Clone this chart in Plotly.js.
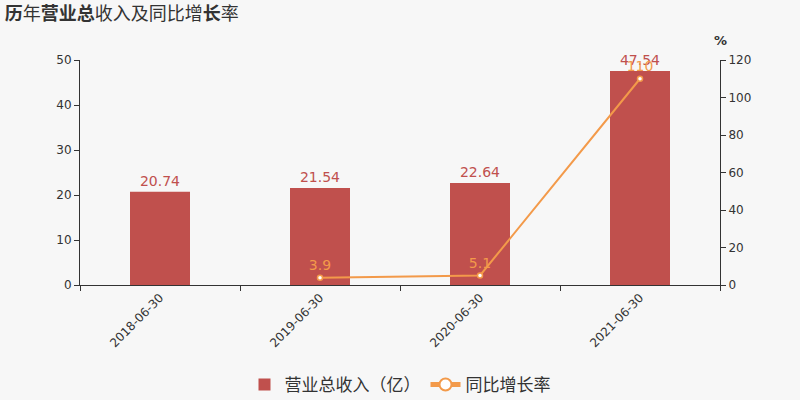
<!DOCTYPE html>
<html>
<head>
<meta charset="utf-8">
<script src="https://cdn.plot.ly/plotly-3.0.1.min.js"></script>
<style>
  html, body { margin: 0; padding: 0; background: #f7f7f7; }
  #chart { width: 800px; height: 400px; }
</style>
</head>
<body>
<div id="chart"></div>
<script>
  // ---------- Data ----------
  const periods = ["2018-06-30", "2019-06-30", "2020-06-30", "2021-06-30"];
  const revenue = [20.74, 21.54, 22.64, 47.54];          // 营业总收入（亿）
  const growthPeriods = ["2019-06-30", "2020-06-30", "2021-06-30"];
  const growth = [3.9, 5.1, 110];                          // 同比增长率 %
  const growthLabels = ["3.9", "5.1", "110"];

  // ---------- Colors ----------
  const C = {
    bg: "#f7f7f7",
    axis: "#333333",
    text: "#333333",
    bar: "#c0504d",
    line: "#f39a4a",
  };
  const FONT = "'DejaVu Sans', 'Noto Sans CJK SC', sans-serif";
  const CJK = "'Noto Sans CJK SC', sans-serif";

  const traces = [
    {
      type: "bar",
      name: "营业总收入（亿）",
      x: periods,
      y: revenue,
      width: 0.375,
      marker: { color: C.bar },
      text: revenue.map(v => v.toFixed(2)),
      textposition: "outside",
      cliponaxis: false,
      textfont: { color: C.bar, size: 14, family: FONT },
      hoverinfo: "skip",
    },
    {
      type: "scatter",
      mode: "lines+markers+text",
      name: "同比增长率",
      x: growthPeriods,
      y: growth,
      yaxis: "y2",
      line: { color: C.line, width: 2 },
      marker: { size: 5, color: "#ffffff", line: { color: C.line, width: 1.5 } },
      text: growthLabels,
      textposition: "top center",
      cliponaxis: false,
      textfont: { color: C.line, size: 14, family: FONT },
      hoverinfo: "skip",
    },
  ];

  const tickfont = { color: C.text, size: 12, family: FONT };

  const layout = {
    width: 800,
    height: 400,
    paper_bgcolor: C.bg,
    plot_bgcolor: C.bg,
    font: { family: FONT, color: C.text },
    margin: { l: 80, r: 80, t: 60, b: 115 },
    title: {
      text: "<b>历</b>年<b>营业总</b>收入及同比增<b>长</b>率",
      x: 0.006, xanchor: "left",
      y: 0.965, yanchor: "middle",
      font: { size: 18, color: C.text, family: CJK },
    },
    showlegend: true,
    legend: {
      orientation: "h",
      x: 0.5, xanchor: "center",
      yref: "container",
      y: 0.0375, yanchor: "middle",
      font: { size: 17, color: C.text, family: CJK },
      bgcolor: "rgba(0,0,0,0)",
      itemsizing: "constant",
      itemwidth: 30,
    },
    xaxis: {
      type: "category",
      automargin: false,
      tickson: "boundaries",
      ticks: "outside",
      ticklen: 5,
      tickcolor: C.axis,
      showline: true,
      linecolor: C.axis,
      linewidth: 1,
      showgrid: false,
      tickangle: -45,
      tickfont: tickfont,
    },
    yaxis: {
      automargin: false,
      range: [0, 50],
      dtick: 10,
      ticks: "outside",
      ticklen: 5,
      tickcolor: C.axis,
      showline: true,
      linecolor: C.axis,
      showgrid: false,
      zeroline: false,
      tickfont: tickfont,
    },
    yaxis2: {
      automargin: false,
      overlaying: "y",
      side: "right",
      range: [0, 120],
      dtick: 20,
      ticks: "outside",
      ticklen: 5,
      tickcolor: C.axis,
      showline: true,
      linecolor: C.axis,
      showgrid: false,
      zeroline: false,
      tickfont: tickfont,
    },
    annotations: [
      {
        text: "<b>%</b>",
        xref: "paper", yref: "paper",
        x: 1.0, y: 1.0,
        xanchor: "center", yanchor: "bottom",
        yshift: 10,
        showarrow: false,
        font: { size: 13, color: C.text, family: FONT },
      },
    ],
  };

  Plotly.newPlot("chart", traces, layout, { displayModeBar: false, staticPlot: true });
</script>
</body>
</html>
